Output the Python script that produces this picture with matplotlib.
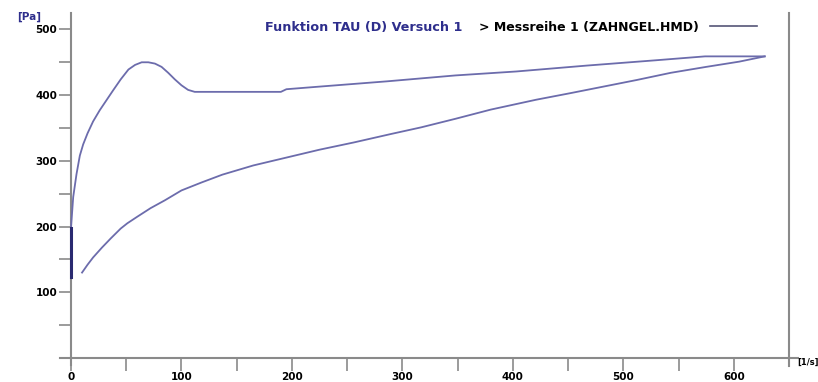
import numpy as np
import matplotlib.pyplot as plt
from matplotlib.lines import Line2D

# shear rate [1/s] / shear stress [Pa], up ramp then down ramp
x_up = [0, 0, 2, 5, 8, 11, 15, 20, 26, 32, 38, 45, 52, 58, 64, 70, 76, 82, 88, 94, 100, 106, 112,
        190, 195, 225, 286, 348, 403, 467, 529, 574, 628]
y_up = [123, 198, 245, 280, 308, 325, 342, 360, 377, 392, 407, 424, 439, 446, 450, 450, 448, 443, 434, 424, 415, 408, 405,
        405, 409, 413, 421, 430, 436, 445, 453, 459, 459]

x_down = [628, 605, 575, 543, 512, 482, 452, 421, 380, 348, 317, 290, 256, 225, 195, 165, 137, 118, 100,
          85, 72, 60, 51, 45, 36, 28, 20, 15, 10]
y_down = [459, 451, 443, 434, 423, 413, 403, 393, 378, 364, 351, 341, 328, 317, 305, 293, 279, 267, 255,
          240, 228, 215, 205, 197, 182, 168, 153, 142, 130]

x_ticks = [0, 100, 200, 300, 400, 500, 600]
y_ticks = [100, 200, 300, 400, 500]

line_col = "#6c6cac"
axis_col = "#8a8a8a"
blue = "#2e2e8c"

fig = plt.figure(figsize=(8.18, 3.82), dpi=100)
ax = fig.add_axes([71 / 818, 24 / 382, 718 / 818, 345 / 382])

ax.plot(x_up, y_up, color=line_col, lw=1.3, zorder=5, clip_on=False)
ax.plot(x_down, y_down, color=line_col, lw=1.3, zorder=5, clip_on=False)
# start of up ramp sits on the axis
ax.plot(x_up[:2], y_up[:2], color="#2a2a70", lw=2.2, zorder=6, clip_on=False)

ax.set_xlim(0, 650)
ax.set_ylim(0, 525)

for s in ["left", "bottom", "right"]:
    ax.spines[s].set_color(axis_col)
    ax.spines[s].set_linewidth(1.5)
ax.spines["top"].set_visible(False)

# axis lines run a little past the origin and the right edge
ax.plot([-10, 0], [0, 0], color=axis_col, lw=1.5, clip_on=False)
ax.plot([650, 658], [0, 0], color=axis_col, lw=1.5, clip_on=False)
ax.plot([0, 0], [-10, 0], color=axis_col, lw=1.5, clip_on=False)
ax.plot([650, 650], [-12, 0], color=axis_col, lw=1.5, clip_on=False)

ax.set_xticks(x_ticks)
ax.set_xticks(np.arange(50, 650, 100), minor=True)
ax.set_yticks(y_ticks)
ax.set_yticks(np.arange(50, 500, 100), minor=True)
ax.tick_params(which="both", direction="out", length=9, width=1.2, color=axis_col)
ax.tick_params(axis="both", labelsize=7.5, pad=1)
for lab in ax.get_xticklabels() + ax.get_yticklabels():
    lab.set_fontweight("bold")

fig.text(17 / 818, 1 - 17 / 382, "[Pa]", color=blue, fontsize=7.5, fontweight="bold", va="center")
fig.text(797 / 818, 1 - 362 / 382, "[1/s]", fontsize=6, fontweight="bold", va="center")

fig.text(265 / 818, 1 - 27 / 382, "Funktion TAU (D) Versuch 1", color=blue,
         fontsize=9.2, fontweight="bold", va="center")
fig.text(479 / 818, 1 - 27 / 382, "> Messreihe 1 (ZAHNGEL.HMD)", color="black",
         fontsize=9, fontweight="bold", va="center")
fig.add_artist(Line2D([710 / 818, 757 / 818], [1 - 26 / 382, 1 - 26 / 382],
                      color="#555577", lw=1.2, transform=fig.transFigure))

fig.savefig("out.png", dpi=100)
